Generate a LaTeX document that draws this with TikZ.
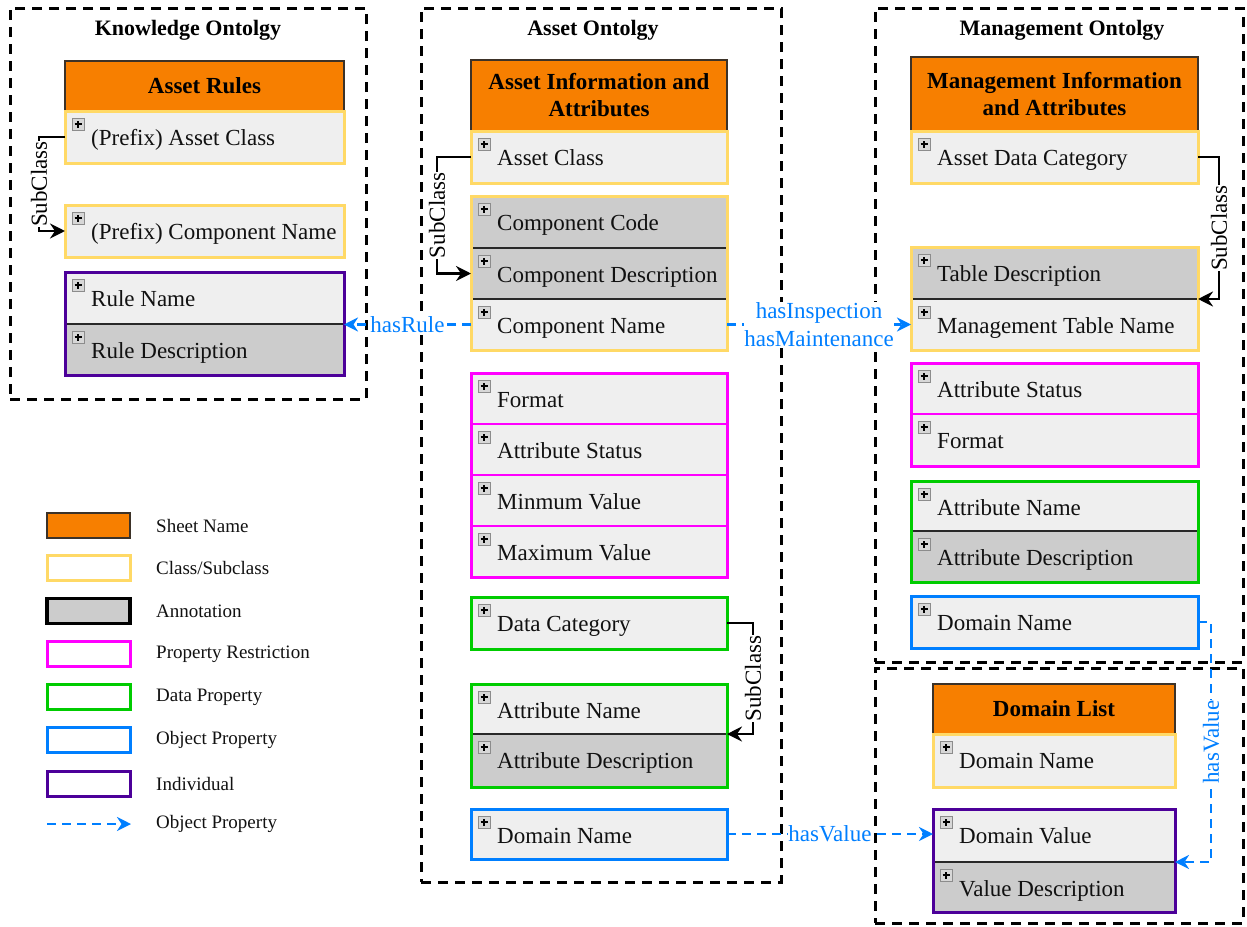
\documentclass[tikz,border=0pt]{standalone}
\usepackage{fontspec}
\setmainfont{Liberation Serif}
\usetikzlibrary{arrows.meta}
\definecolor{orangeF}{RGB}{247,127,0}
\definecolor{hdrline}{RGB}{60,50,40}
\definecolor{yellowB}{RGB}{255,217,102}
\definecolor{lightF}{RGB}{239,239,239}
\definecolor{grayF}{RGB}{204,204,204}
\definecolor{magB}{RGB}{255,0,255}
\definecolor{greenB}{RGB}{0,204,0}
\definecolor{blueB}{RGB}{0,127,255}
\definecolor{purpleB}{RGB}{76,0,153}
\definecolor{divC}{RGB}{40,40,40}
\definecolor{plusline}{RGB}{140,140,140}
\definecolor{plusfill}{RGB}{215,215,215}
\definecolor{txt}{RGB}{17,17,17}
\tikzset{
  cellbox/.style={anchor=north west, inner sep=0pt, outer sep=0pt, draw=none},
  hdr/.style={anchor=north west, inner sep=0pt, outer sep=0pt, draw=hdrline, line width=1.4pt, fill=orangeF, font=\bfseries\fontsize{23}{27}\selectfont, align=center, text=black},
  ctext/.style={anchor=base west, inner sep=0pt, font=\fontsize{23}{27}\selectfont, text=txt},
  plusbox/.style={draw=plusline, fill=plusfill, line width=0.9pt, minimum size=12pt, inner sep=0pt,
    path picture={\draw[black,line width=1.1pt] ([xshift=-3.5pt]path picture bounding box.center) -- ([xshift=3.5pt]path picture bounding box.center) ([yshift=-3.5pt]path picture bounding box.center) -- ([yshift=3.5pt]path picture bounding box.center);}},
  grpY/.style={draw=yellowB, line width=3pt},
  grpM/.style={draw=magB, line width=3pt},
  grpG/.style={draw=greenB, line width=3pt},
  grpB/.style={draw=blueB, line width=3pt},
  grpP/.style={draw=purpleB, line width=3pt},
  divl/.style={draw=divC, line width=1.8pt},
  dashbox/.style={anchor=north west, inner sep=0pt, outer sep=0pt, draw=black, line width=3pt, dash pattern=on 10pt off 7pt},
  ttl/.style={font=\bfseries\fontsize{22}{26}\selectfont, inner sep=0pt},
  subarr/.style={draw=black, line width=2.8pt, -{Stealth[length=15pt,width=15pt,inset=5pt]}},
  sublbl/.style={rotate=90, fill=white, inner sep=0.5pt, font=\fontsize{23}{27}\selectfont, text=black},
  objarr/.style={draw=blueB, line width=2.8pt, dash pattern=on 9pt off 6pt, -{Stealth[length=14pt,width=14pt,inset=4.5pt]}},
  objlbl/.style={fill=white, inner sep=0.5pt, font=\fontsize{23}{28}\selectfont, text=blueB, align=center},
  objlblr/.style={objlbl, rotate=90},
  legbox/.style={minimum width=83pt, minimum height=25pt, inner sep=0pt, line width=3pt},
  legtext/.style={anchor=west, inner sep=0pt, font=\fontsize{19}{22}\selectfont, text=txt},
}
\newcommand\cellrow[7]{%
  \node[cellbox, fill=#6, minimum width=#4, minimum height=#5] (#1) at (#2,#3) {};
  \node[plusbox] (#1-plus) at ([xshift=13pt,yshift=-13pt]#1.north west) {};
  \node[ctext] (#1-text) at ([xshift=26pt,yshift=-34.5pt]#1.north west) {#7};
}
\begin{document}
\begin{tikzpicture}[x=1pt,y=-1pt]
\fill[white] (0,0) rectangle (1247,926);
\useasboundingbox (0,0) rectangle (1247,926);

% dashed frames
\node[dashbox, minimum width=356, minimum height=391] (ko) at (10,8) {};
\node[dashbox, minimum width=360, minimum height=874] (ao) at (421,8) {};
\node[dashbox, minimum width=368, minimum height=654] (mo) at (875,8) {};
\node[dashbox, minimum width=368, minimum height=255] (do) at (875,668) {};
\node[ttl] (ko-title) at (188,30) {Knowledge Ontolgy};
\node[ttl] (ao-title) at (593,30) {Asset Ontolgy};
\node[ttl] (mo-title) at (1062,30) {Management Ontolgy};

% Knowledge ontology
\node[hdr, minimum width=279, minimum height=50] (ar) at (65,61) {Asset Rules};
\cellrow{pac}{65}{111}{279}{52}{lightF}{(Prefix) Asset Class}
\cellrow{pcn}{65}{205}{279}{52}{lightF}{(Prefix) Component Name}
\cellrow{rn}{65}{272}{279}{52}{lightF}{Rule Name}
\cellrow{rd}{65}{324}{279}{51}{grayF}{Rule Description}
\draw[divl] (rn.south west) -- (rn.south east);
\draw[grpY] (pac.north west) rectangle (pac.south east);
\draw[grpY] (pcn.north west) rectangle (pcn.south east);
\draw[grpP] (rn.north west) rectangle (rd.south east);

% Asset ontology
\node[hdr, minimum width=256, minimum height=71] (aia) at (471,60) {Asset Information and\\Attributes};
\cellrow{ac}{471}{131}{256}{52}{lightF}{Asset Class}
\cellrow{cc}{471}{196}{256}{52}{grayF}{Component Code}
\cellrow{cd}{471}{248}{256}{51}{grayF}{Component Description}
\cellrow{cn}{471}{299}{256}{51}{lightF}{Component Name}
\cellrow{fm}{471}{373}{256}{51}{lightF}{Format}
\cellrow{ast}{471}{424}{256}{51}{lightF}{Attribute Status}
\cellrow{mnv}{471}{475}{256}{51}{lightF}{Minmum Value}
\cellrow{mxv}{471}{526}{256}{51}{lightF}{Maximum Value}
\cellrow{dc}{471}{597}{256}{52}{lightF}{Data Category}
\cellrow{an}{471}{684}{256}{50}{lightF}{Attribute Name}
\cellrow{ad}{471}{734}{256}{53}{grayF}{Attribute Description}
\cellrow{adn}{471}{809}{256}{50}{lightF}{Domain Name}
\draw[divl] (cc.south west) -- (cc.south east);
\draw[divl] (cd.south west) -- (cd.south east);
\draw[grpM, line width=2.2pt] (fm.south west) -- (fm.south east);
\draw[grpM, line width=2.2pt] (ast.south west) -- (ast.south east);
\draw[grpM, line width=2.2pt] (mnv.south west) -- (mnv.south east);
\draw[divl] (an.south west) -- (an.south east);
\draw[grpY] (ac.north west) rectangle (ac.south east);
\draw[grpY] (cc.north west) rectangle (cn.south east);
\draw[grpM] (fm.north west) rectangle (mxv.south east);
\draw[grpG] (dc.north west) rectangle (dc.south east);
\draw[grpG] (an.north west) rectangle (ad.south east);
\draw[grpB] (adn.north west) rectangle (adn.south east);

% Management ontology
\node[hdr, minimum width=287, minimum height=74] (mia) at (911,57) {Management Information\\and Attributes};
\cellrow{adc}{911}{131}{287}{52}{lightF}{Asset Data Category}
\cellrow{td}{911}{247}{287}{52}{grayF}{Table Description}
\cellrow{mtn}{911}{299}{287}{51}{lightF}{Management Table Name}
\cellrow{mas}{911}{363}{287}{51}{lightF}{Attribute Status}
\cellrow{mfm}{911}{414}{287}{52}{lightF}{Format}
\cellrow{man}{911}{481}{287}{50}{lightF}{Attribute Name}
\cellrow{mad}{911}{531}{287}{51}{grayF}{Attribute Description}
\cellrow{mdn}{911}{596}{287}{52}{lightF}{Domain Name}
\draw[divl] (td.south west) -- (td.south east);
\draw[grpM, line width=2.2pt] (mas.south west) -- (mas.south east);
\draw[divl] (man.south west) -- (man.south east);
\draw[grpY] (adc.north west) rectangle (adc.south east);
\draw[grpY] (td.north west) rectangle (mtn.south east);
\draw[grpM] (mas.north west) rectangle (mfm.south east);
\draw[grpG] (man.north west) rectangle (mad.south east);
\draw[grpB] (mdn.north west) rectangle (mdn.south east);

% Domain list
\node[hdr, minimum width=242, minimum height=50] (dl) at (933,684) {Domain List};
\cellrow{ddn}{933}{734}{242}{53}{lightF}{Domain Name}
\cellrow{dv}{933}{809}{242}{53}{lightF}{Domain Value}
\cellrow{dvd}{933}{862}{242}{50}{grayF}{Value Description}
\draw[divl] (dv.south west) -- (dv.south east);
\draw[grpY] (ddn.north west) rectangle (ddn.south east);
\draw[grpP] (dv.north west) rectangle (dvd.south east);

% SubClass connectors
\draw[subarr] (pac.west) -- ++(-26,0) |- (pcn.west) node[sublbl, pos=0.25] {SubClass};
\draw[subarr] (ac.west) -- ++(-34,0) |- (cd.west) node[sublbl, pos=0.25] {SubClass};
\draw[subarr] (dc.east) -- ++(26,0) |- (an.south east) node[sublbl, pos=0.25] {SubClass};
\draw[subarr] (adc.east) -- ++(21,0) |- (td.south east) node[sublbl, pos=0.25] {SubClass};

% object property connectors
\draw[objarr] (cn.west) -- (cn.west -| rn.east) node[objlbl, midway] {hasRule};
\draw[objarr] (cn.east) -- (cn.east -| mtn.west) node[objlbl, midway] {hasInspection\\hasMaintenance};
\draw[objarr] (adn.east) -- (adn.east -| dv.west) node[objlbl, midway] {hasValue};
\draw[objarr] (mdn.east) -- ++(13,0) |- (dv.south east) node[objlblr, pos=0.25] {hasValue};

% legend
\node[legbox, fill=orangeF, draw=hdrline, line width=2.2pt] (lg1) at (88.5,525.5) {};
\node[legbox, fill=white, draw=yellowB] (lg2) at (88.5,567.5) {};
\node[legbox, fill=grayF, draw=black, line width=3.5pt] (lg3) at (88.5,611) {};
\node[legbox, fill=white, draw=magB] (lg4) at (88.5,654) {};
\node[legbox, fill=white, draw=greenB] (lg5) at (88.5,697) {};
\node[legbox, fill=white, draw=blueB] (lg6) at (88.5,740) {};
\node[legbox, fill=white, draw=purpleB] (lg7) at (88.5,783.5) {};
\coordinate (lga) at (47,824);
\coordinate (lgb) at (131,824);
\draw[objarr] (lga) -- (lgb);
\node[legtext] (lt1) at (156,525.5) {Sheet Name};
\node[legtext] (lt2) at (156,567.5) {Class/Subclass};
\node[legtext] (lt3) at (156,611) {Annotation};
\node[legtext] (lt4) at (156,654) {Property Restriction};
\node[legtext] (lt5) at (156,697) {Data Property};
\node[legtext] (lt6) at (156,740) {Object Property};
\node[legtext] (lt7) at (156,783.5) {Individual};
\node[legtext] (lt8) at (156,824) {Object Property};
\end{tikzpicture}
\end{document}
